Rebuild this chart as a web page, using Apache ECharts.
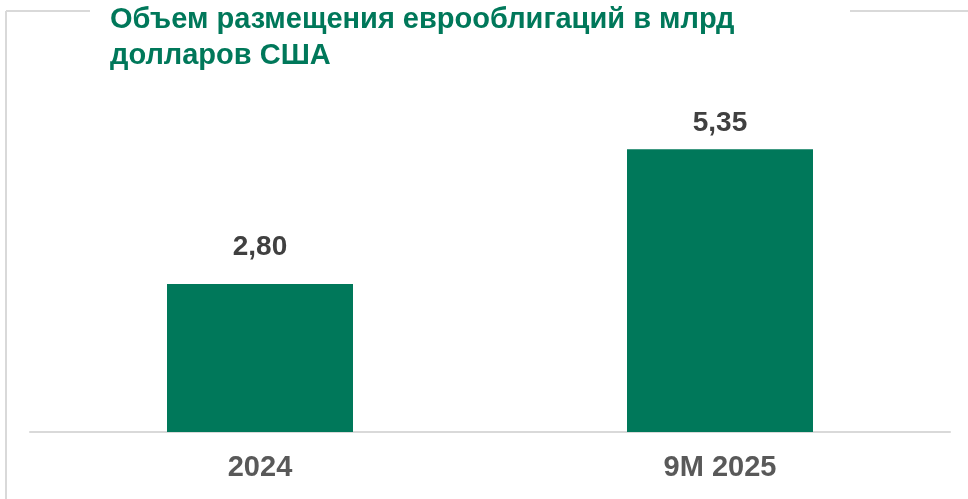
<!DOCTYPE html>
<html>
<head>
<meta charset="utf-8">
<style>
    html, body { margin: 0; padding: 0; background: #fff; }
    #chart { width: 968px; height: 499px; }
</style>
<script src="https://cdn.jsdelivr.net/npm/echarts@6/dist/echarts.min.js"></script>
</head>
<body>
<div id="chart"></div>
<script>
// данные
var categories = ['2024', '9M 2025'];
var values = [2.80, 5.35];
var titleLines = ['Объем размещения еврооблигаций в млрд', 'долларов США'];

var green = '#00785A';
var frameColor = '#d9d9d9';
var labelGap = [23, 12]; // подписи над столбцами стоят не одинаково

var chart = echarts.init(document.getElementById('chart'));

chart.setOption({
    animation: false,
    title: {
        text: titleLines.join('\n'),
        left: 105,
        top: -3,
        textStyle: {
            fontFamily: 'Liberation Sans, Arial, sans-serif',
            fontSize: 29,
            fontWeight: 'bold',
            color: green,
            lineHeight: 36
        }
    },
    // рамка слайда
    graphic: [
        { type: 'line', shape: { x1: 6, y1: 11, x2: 90, y2: 11 }, style: { stroke: frameColor, lineWidth: 2 } },
        { type: 'line', shape: { x1: 6, y1: 11, x2: 6, y2: 499 }, style: { stroke: frameColor, lineWidth: 2 } },
        { type: 'line', shape: { x1: 850, y1: 11, x2: 968, y2: 11 }, style: { stroke: frameColor, lineWidth: 2 } }
    ],
    grid: {
        left: 30,
        right: 18,
        top: 115,
        bottom: 67
    },
    xAxis: {
        type: 'category',
        data: categories,
        axisTick: { show: false },
        axisLine: { lineStyle: { color: frameColor, width: 2 } },
        axisLabel: {
            margin: 21,
            fontFamily: 'Liberation Sans, Arial, sans-serif',
            fontSize: 29,
            fontWeight: 'bold',
            color: '#595959'
        }
    },
    yAxis: {
        type: 'value',
        min: 0,
        max: 6,
        show: false
    },
    series: [{
        type: 'bar',
        data: values.map(function (v, i) {
            return { value: v, label: { distance: labelGap[i] } };
        }),
        barWidth: 186,
        itemStyle: { color: green },
        label: {
            show: true,
            position: 'top',
            fontFamily: 'Liberation Sans, Arial, sans-serif',
            fontSize: 28,
            fontWeight: 'bold',
            color: '#404040',
            formatter: function (p) {
                return p.value.toFixed(2).replace('.', ',');
            }
        }
    }]
});
</script>
</body>
</html>
